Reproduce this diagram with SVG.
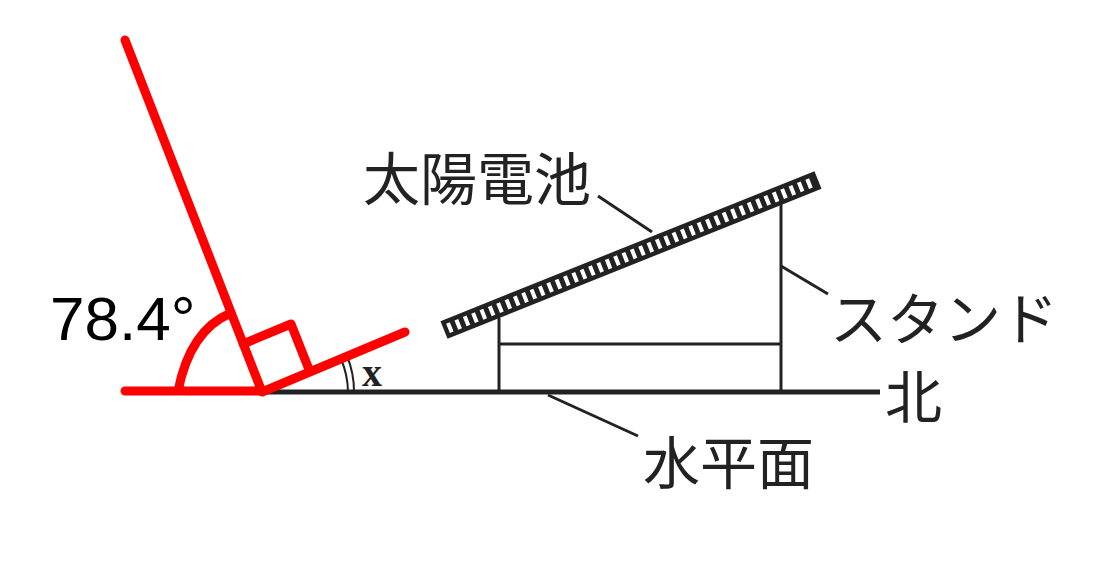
<svg xmlns="http://www.w3.org/2000/svg" width="1100" height="567" viewBox="0 0 1100 567">
<style>
.k{stroke:#222;fill:none}
.r{stroke:#f00;stroke-width:9;fill:none;stroke-linecap:round;stroke-linejoin:round}
.t{font-family:"Noto Sans CJK JP",sans-serif;font-size:57px;fill:#222}
</style>
<rect width="1100" height="567" fill="#fff"/>
<g id="connectors">
<line class="k" x1="262" y1="392" x2="880" y2="392" stroke-width="5"/>
<line class="k" x1="499" y1="318" x2="499" y2="392" stroke-width="3"/>
<line class="k" x1="781" y1="198" x2="781" y2="392" stroke-width="3"/>
<line class="k" x1="499" y1="344" x2="781" y2="344" stroke-width="3"/>
<line class="k" x1="598" y1="196" x2="652" y2="232" stroke-width="3"/>
<line class="k" x1="781" y1="266" x2="828" y2="294" stroke-width="3"/>
<line class="k" x1="548" y1="395" x2="638" y2="436" stroke-width="3"/>
<path class="k" stroke-width="2" d="M348,392 A86,86 0 0 0 341,359 M354,392 A92,92 0 0 0 347,356"/>
</g>
<g id="panel">
<line x1="444" y1="330" x2="818" y2="180" stroke="#222" stroke-width="19"/>
<line x1="448" y1="328.4" x2="814" y2="181.6" stroke="#fff" stroke-width="10" stroke-dasharray="4 5"/>
</g>
<g id="red">
<path class="r" d="M125,40 L262,392 L405,332 M125,391 L262,391 M243,344 L291,324 L310,372 M178,391 Q190,330 231,313"/>
</g>
<text x="50" y="340" font-family="Liberation Sans,sans-serif" font-size="62">78.4°</text>
<text x="362" y="386" font-family="Liberation Serif,serif" font-weight="bold" font-size="40" fill="#222">x</text>
<text class="t" x="363" y="200">太陽電池</text>
<text class="t" x="830" y="340">スタンド</text>
<text class="t" x="885" y="418">北</text>
<text class="t" x="643" y="484">水平面</text>
</svg>
